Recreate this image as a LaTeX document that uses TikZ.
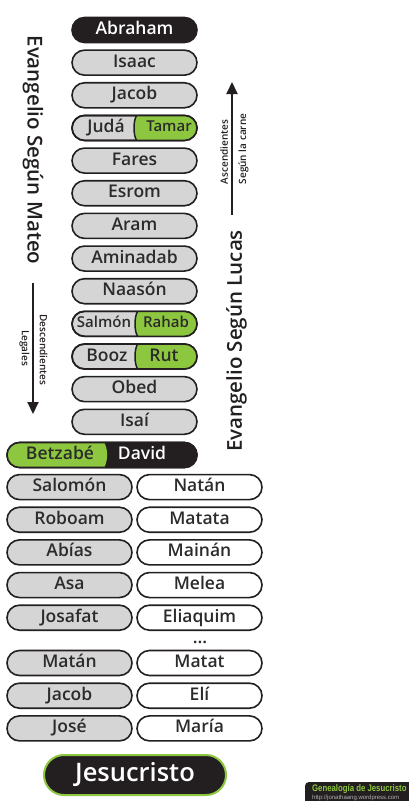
\documentclass[tikz,border=0pt]{standalone}
\usepackage{fontspec}
\setmainfont{Open Sans}[UprightFont=* Semibold, BoldFont=* Bold]
\newfontfamily\labfont{Liberation Sans}
\usetikzlibrary{shapes.misc,arrows.meta}
\definecolor{dk}{HTML}{231F20}
\definecolor{gy}{HTML}{D5D5D5}
\definecolor{gr}{HTML}{8DC63F}
\definecolor{tx}{HTML}{2B2B2B}
\definecolor{urlc}{HTML}{B0B0B0}
\newcommand\splitgreen[2]{%
  \begin{scope}
    \clip[rounded corners=12.5bp] (72,#1-12.5) rectangle (197,#1+12.5);
    \fill[gr] (#2+3,#1-13) .. controls (#2-1,#1-8) and (#2-1,#1+8) .. (#2+3,#1+13) -- (200,#1+13) -- (200,#1-13) -- cycle;
    \draw[dk, line width=1.5bp] (#2+3,#1-13) .. controls (#2-1,#1-8) and (#2-1,#1+8) .. (#2+3,#1+13);
  \end{scope}
  \draw[outl] (72,#1-12.5) rectangle (197,#1+12.5);
}
\begin{document}
\begin{tikzpicture}[x=1bp,y=-1bp,
  pbox/.style={rounded rectangle, minimum width=125bp, minimum height=25bp, inner sep=0pt, draw=dk, line width=1.6bp},
  nm/.style={font=\fontsize{17.5bp}{20bp}\selectfont, text height=12.5bp, text depth=3.4bp, inner sep=0pt},
  grayp/.style={pbox, fill=gy, nm, text=tx},
  whitep/.style={pbox, fill=white, nm, text=tx},
  blackp/.style={pbox, fill=dk, nm, text=white},
  smalltxt/.style={font=\fontsize{15bp}{17bp}\selectfont, text height=10.7bp, text depth=3bp, inner sep=0pt, text=tx},
  sidetxt/.style={font=\fontsize{20.5bp}{23bp}\selectfont, text=dk, inner sep=0pt},
  notetxt/.style={font=\fontsize{10bp}{12bp}\selectfont, text=dk, inner sep=0pt},
  vertarrow/.style={draw=dk, line width=2bp, -{Triangle[width=11bp,length=12bp]}},
  outl/.style={draw=dk, line width=1.6bp, rounded corners=12.5bp},
]
\fill[white] (0,0) rectangle (408,801);
\useasboundingbox (0,0) rectangle (408,801);

% upper column
\node[blackp] (abraham) at (134.5,30) {Abraham};
\foreach \i/\n/\id in {1/Isaac/isaac, 2/Jacob/jacobA, 4/Fares/fares, 5/Esrom/esrom, 6/Aram/aram, 7/Aminadab/aminadab, 8/Naasón/naason, 11/Obed/obed, 12/Isaí/isai}{
  \pgfmathsetmacro\yy{30+32.65*\i}
  \node[grayp] (\id) at (134.5,\yy) {\n};
}
% Juda / Tamar
\pgfmathsetmacro\yj{30+32.65*3}
\node[grayp] (judabox) at (134.5,\yj) {};
\splitgreen{\yj}{134}
\node[nm, text=tx] (juda) at (106,\yj) {Judá};
\node[smalltxt] (tamar) at (169,\yj) {Tamar};
% Salmon / Rahab
\pgfmathsetmacro\ys{30+32.65*9}
\node[grayp] (salmonbox) at (134.5,\ys) {};
\splitgreen{\ys}{135}
\node[smalltxt] (salmon) at (104,\ys) {Salmón};
\node[smalltxt] (rahab) at (166,\ys) {Rahab};
% Booz / Rut
\pgfmathsetmacro\yb{30+32.65*10}
\node[grayp] (boozbox) at (134.5,\yb) {};
\splitgreen{\yb}{135}
\node[nm, text=tx] (booz) at (107,\yb) {Booz};
\node[nm, text=tx] (rut) at (164,\yb) {Rut};

% Betzabe / David
\node[blackp, minimum width=190bp] (bdbox) at (102,455) {};
\begin{scope}
  \clip[rounded corners=12.5bp] (7,442.5) rectangle (197,467.5);
  \fill[gr] (103,441) .. controls (108.5,447) and (108.5,463) .. (103,469) -- (0,469) -- (0,441) -- cycle;
\end{scope}
\draw[outl] (7,442.5) rectangle (197,467.5);
\node[nm, text=tx] (betzabe) at (60,455) {Betzabé};
\node[nm, text=white] (david) at (142,455) {David};

% lower pairs
\foreach \i/\a/\b/\ia/\ib in {14/Salomón/Natán/salomon/natan, 15/Roboam/Matata/roboam/matata, 16/Abías/Mainán/abias/mainan, 17/Asa/Melea/asa/melea, 18/Josafat/Eliaquim/josafat/eliaquim}{
  \pgfmathsetmacro\yy{30+32.65*\i}
  \node[grayp] (\ia) at (69.5,\yy) {\a};
  \node[whitep] (\ib) at (199.5,\yy) {\b};
}
\node[nm, text=tx] (dots) at (200,639) {...};
\foreach \yy/\a/\b/\ia/\ib in {663/Matán/Matat/matan/matat, 695.7/Jacob/Elí/jacobB/eli, 728.4/José/María/jose/maria}{
  \node[grayp] (\ia) at (69.5,\yy) {\a};
  \node[whitep] (\ib) at (199.5,\yy) {\b};
}

% Jesucristo
\node[pbox, fill=dk, draw=gr, line width=2bp, minimum width=182bp, minimum height=40bp, text=white, font=\fontsize{25.5bp}{27bp}\selectfont] (jesus) at (135,775) {Jesucristo};

% side texts
\node[sidetxt, rotate=-90] (mateo) at (33,150) {Evangelio Según Mateo};
\node[sidetxt, rotate=90] (lucas) at (236.5,341) {Evangelio Según Lucas};

\coordinate (la1) at (33,283);
\coordinate (la2) at (33,414);
\draw[vertarrow] (la1) -- (la2);
\node[notetxt, rotate=-90] (desc) at (43.5,350) {Descendientes};
\node[notetxt, rotate=-90] (leg) at (24.5,348) {Legales};

\coordinate (ra1) at (232,215);
\coordinate (ra2) at (232,82);
\draw[vertarrow] (ra1) -- (ra2);
\node[notetxt, rotate=90] (asc) at (224,152) {Ascendientes};
\node[notetxt, rotate=90] (carne) at (243.5,149) {Según la carne};

% credit label
\fill[dk, rounded corners=4bp] (305,782) rectangle (416,810);
\node[font=\labfont\bfseries\fontsize{9.5bp}{10bp}\selectfont, text=gr, xscale=0.82, anchor=west, inner sep=0pt] (lab) at (312,789.5) {Genealogía de Jesucristo};
\node[font=\labfont\fontsize{6bp}{7bp}\selectfont, text=urlc, anchor=west, inner sep=0pt] (url) at (312,797.5) {http://jonathaang.wordpress.com};
\end{tikzpicture}
\end{document}
